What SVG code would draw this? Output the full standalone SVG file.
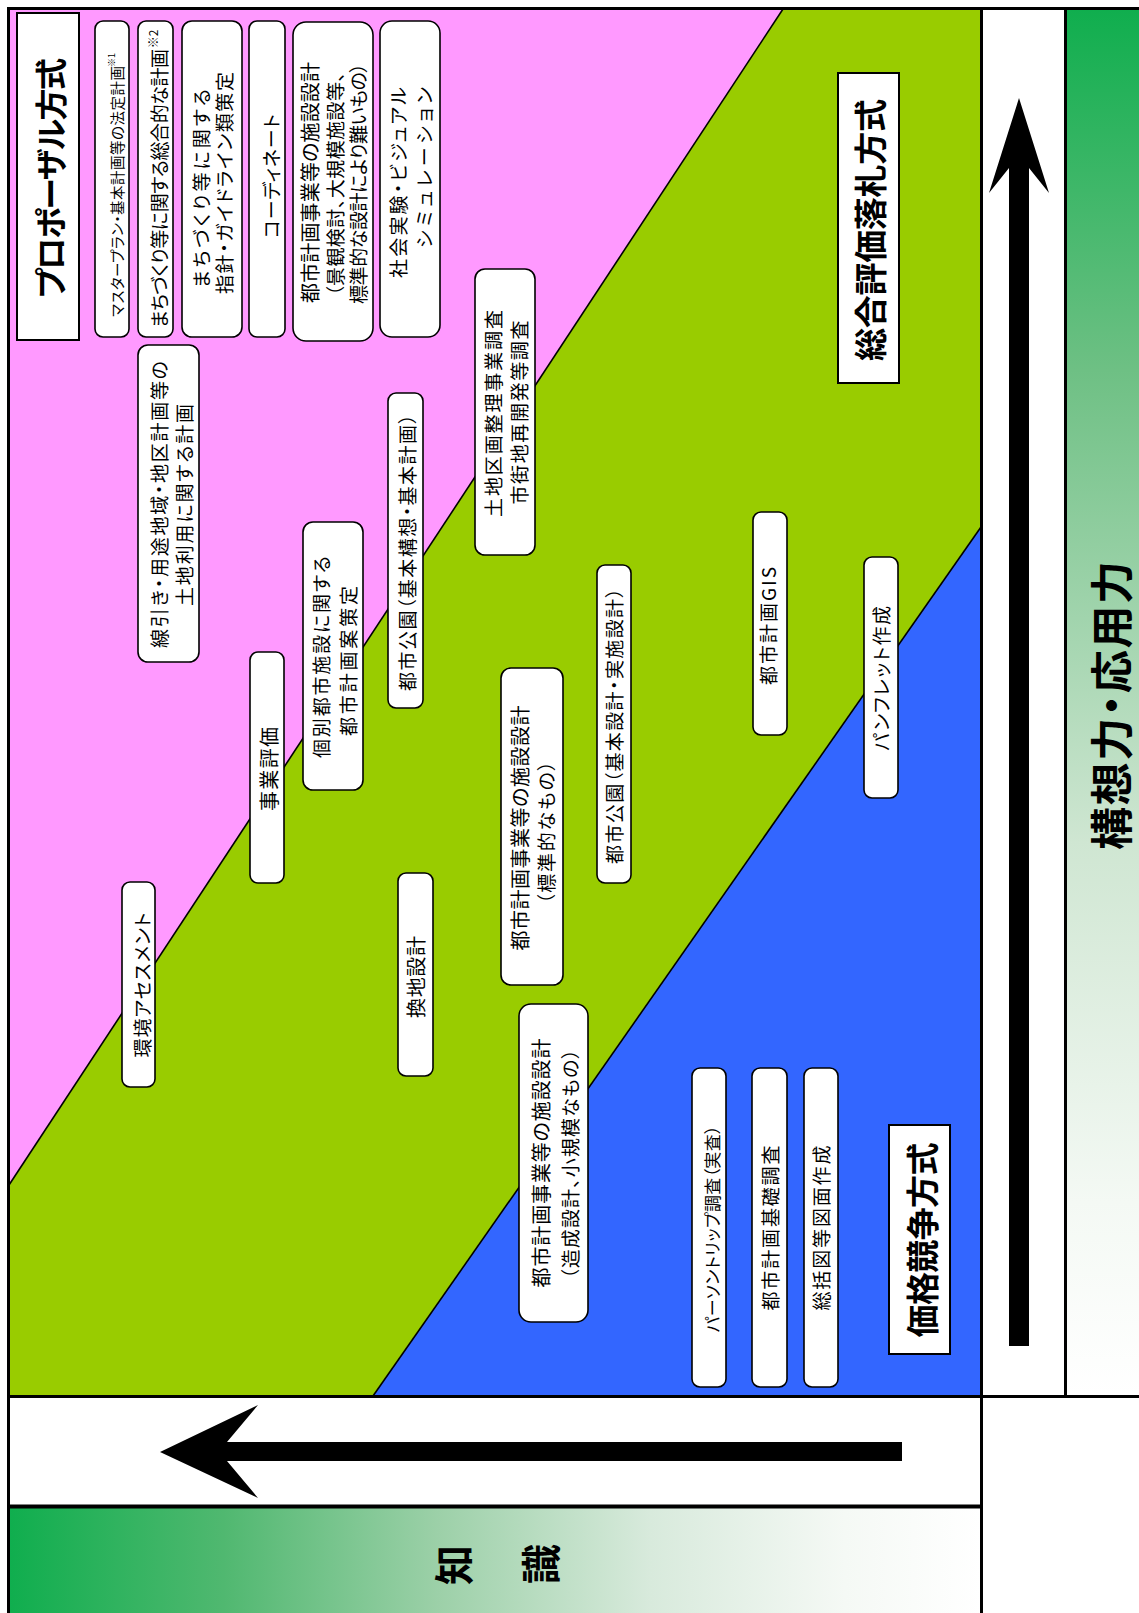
<svg xmlns="http://www.w3.org/2000/svg" width="1139" height="1613" viewBox="0 0 1139 1613">
<style>
.box{fill:#fff;stroke:#000;stroke-width:1.6}
.sq{fill:#fff;stroke:#000;stroke-width:2}
.t{font-family:"Noto Sans CJK JP","Noto Sans CJK SC",sans-serif;font-size:19px;fill:#000;text-anchor:middle;dominant-baseline:central;font-feature-settings:"palt" 1}
.s{text-anchor:start}
.b{font-weight:bold}
.fr{stroke:#000;stroke-width:3;fill:none}
.bd{stroke:#000;stroke-width:1.6;fill:none}
</style>
<defs>
<linearGradient id="gh" x1="0" y1="0" x2="1" y2="0">
<stop offset="0" stop-color="#10AE4E"/>
<stop offset="0.22" stop-color="#50B870"/>
<stop offset="0.44" stop-color="#9CD0A8"/>
<stop offset="0.66" stop-color="#D8EADC"/>
<stop offset="0.86" stop-color="#F5F9F5"/>
<stop offset="1" stop-color="#FFFFFF"/>
</linearGradient>
<linearGradient id="gv" x1="0" y1="0" x2="0" y2="1">
<stop offset="0" stop-color="#10AE4E"/>
<stop offset="0.26" stop-color="#6EC084"/>
<stop offset="0.6" stop-color="#CFE6D2"/>
<stop offset="0.86" stop-color="#F4F9F4"/>
<stop offset="1" stop-color="#FFFFFF"/>
</linearGradient>
</defs>
<rect x="0" y="0" width="1139" height="1613" fill="#fff"/>
<g id="regions">
<polygon points="9,9 783,9 9,1185" fill="#FF99FF"/>
<polygon points="783,9 981,9 981,527 373,1396 9,1396 9,1185" fill="#99CC00"/>
<polygon points="981,527 981,1396 373,1396" fill="#3366FF"/>
<line class="bd" x1="9" y1="1185" x2="783" y2="9"/>
<line class="bd" x1="373" y1="1396" x2="981" y2="527"/>
<rect x="10" y="1508" width="971" height="105" fill="url(#gh)"/>
<rect x="1066" y="10" width="73" height="1386" fill="url(#gv)"/>
</g>
<g id="frame">
<line class="fr" x1="7" y1="8.5" x2="1139" y2="8.5"/>
<line class="fr" x1="8.5" y1="7" x2="8.5" y2="1613"/>
<line class="fr" x1="981.5" y1="7" x2="981.5" y2="1613"/>
<line class="fr" x1="1065.5" y1="7" x2="1065.5" y2="1397"/>
<line class="fr" x1="7" y1="1396.5" x2="1139" y2="1396.5"/>
<line class="fr" x1="7" y1="1506.5" x2="981" y2="1506.5" style="stroke-width:4"/>
</g>
<g id="connectors">
<polygon id="arrow-up" points="1019,98 1049,193 1029,168 1029,1346 1009,1346 1009,168 989,193" fill="#000"/>
<polygon id="arrow-left" points="160,1452 258,1405 227,1442 902,1442 902,1461 227,1461 258,1498" fill="#000"/>
</g>
<g id="axis-labels">
<text class="t b" transform="translate(1109 705.5) rotate(-90)" style="font-size:43px" textLength="289" lengthAdjust="spacing">構想力・応用力</text>
<text class="t b" transform="translate(452 1565) rotate(-90)" style="font-size:40px">知</text>
<text class="t b" transform="translate(539 1564) rotate(-90)" style="font-size:40px">識</text>
</g>
<g id="n-proposal">
<rect class="sq" x="17" y="13" width="62" height="327"/>
<text class="t b" transform="translate(49 178) rotate(-90)" style="font-size:32px" textLength="240" lengthAdjust="spacing">プロポーザル方式</text>
</g>
<g id="n-masterplan">
<rect class="box" x="95" y="21" width="34" height="316" rx="8"/>
<text class="t s" transform="translate(116 317) rotate(-90)" style="font-size:14.5px" textLength="251" lengthAdjust="spacing">マスタープラン・基本計画等の法定計画</text>
<text class="t" transform="translate(111 60) rotate(-90)" style="font-size:9px">※1</text>
</g>
<g id="n-sogo">
<rect class="box" x="138" y="21" width="35" height="316" rx="8"/>
<text class="t s" transform="translate(158 328) rotate(-90)" textLength="279" lengthAdjust="spacing">まちづくり等に関する総合的な計画</text>
<text class="t" transform="translate(152 39) rotate(-90)" style="font-size:12px">※2</text>
</g>
<g id="n-guideline">
<rect class="box" x="182" y="21" width="60" height="316" rx="10"/>
<text class="t" transform="translate(200 188.5) rotate(-90)" textLength="199" lengthAdjust="spacing">まちづくり等に関する</text>
<text class="t" transform="translate(223 183) rotate(-90)" textLength="222" lengthAdjust="spacing">指針・ガイドライン類策定</text>
</g>
<g id="n-coordinate">
<rect class="box" x="249" y="21" width="36" height="316" rx="8"/>
<text class="t" transform="translate(270 176) rotate(-90)" textLength="124" lengthAdjust="spacing">コーディネート</text>
</g>
<g id="n-shisetsu-large">
<rect class="box" x="293" y="22" width="80" height="319" rx="13"/>
<text class="t" transform="translate(309 182.5) rotate(-90)" style="font-size:20px" textLength="241" lengthAdjust="spacing">都市計画事業等の施設設計</text>
<text class="t" transform="translate(334 184) rotate(-90)" textLength="224" lengthAdjust="spacing">（景観検討、大規模施設等、</text>
<text class="t" transform="translate(357 183.5) rotate(-90)" textLength="241" lengthAdjust="spacing">標準的な設計により難いもの）</text>
</g>
<g id="n-shakaijikken">
<rect class="box" x="380" y="21" width="60" height="316" rx="12"/>
<text class="t" transform="translate(397 182.5) rotate(-90)" textLength="191" lengthAdjust="spacing">社会実験・ビジュアル</text>
<text class="t" transform="translate(423 167.5) rotate(-90)" textLength="161" lengthAdjust="spacing">シミュレーション</text>
</g>
<g id="n-senbiki">
<rect class="box" x="138" y="345" width="61" height="317" rx="10"/>
<text class="t" transform="translate(158 504.5) rotate(-90)" textLength="287" lengthAdjust="spacing">線引き・用途地域・地区計画等の</text>
<text class="t" transform="translate(183 505) rotate(-90)" textLength="202" lengthAdjust="spacing">土地利用に関する計画</text>
</g>
<g id="n-kobetsu">
<rect class="box" x="303" y="522" width="60" height="268" rx="10"/>
<text class="t" transform="translate(320 657) rotate(-90)" textLength="202" lengthAdjust="spacing">個別都市施設に関する</text>
<text class="t" transform="translate(347 661) rotate(-90)" textLength="150" lengthAdjust="spacing">都市計画案策定</text>
</g>
<g id="n-koen-kihonkoso">
<rect class="box" x="388" y="393" width="35" height="315" rx="8"/>
<text class="t" transform="translate(406 552.5) rotate(-90)" textLength="277" lengthAdjust="spacing">都市公園（基本構想・基本計画）</text>
</g>
<g id="n-kukaku">
<rect class="box" x="475" y="269" width="60" height="286" rx="10"/>
<text class="t" transform="translate(492 413.5) rotate(-90)" textLength="207" lengthAdjust="spacing">土地区画整理事業調査</text>
<text class="t" transform="translate(518 412.5) rotate(-90)" textLength="184" lengthAdjust="spacing">市街地再開発等調査</text>
</g>
<g id="n-koen-jisshi">
<rect class="box" x="597" y="565" width="34" height="318" rx="8"/>
<text class="t" transform="translate(613 726) rotate(-90)" textLength="276" lengthAdjust="spacing">都市公園（基本設計・実施設計）</text>
</g>
<g id="n-shisetsu-std">
<rect class="box" x="501" y="668" width="62" height="317" rx="10"/>
<text class="t" transform="translate(519 828) rotate(-90)" style="font-size:20px" textLength="245" lengthAdjust="spacing">都市計画事業等の施設設計</text>
<text class="t" transform="translate(545 832.5) rotate(-90)" textLength="143" lengthAdjust="spacing">（標準的なもの）</text>
</g>
<g id="n-gis">
<rect class="box" x="753" y="512" width="34" height="223" rx="8"/>
<text class="t" transform="translate(767 626) rotate(-90)" textLength="118" lengthAdjust="spacing">都市計画GIS</text>
</g>
<g id="n-pamphlet">
<rect class="box" x="864" y="557" width="34" height="241" rx="8"/>
<text class="t" transform="translate(880 678.5) rotate(-90)" textLength="145" lengthAdjust="spacing">パンフレット作成</text>
</g>
<g id="n-sogohyoka">
<rect class="sq" x="838" y="73" width="61" height="310"/>
<text class="t b" transform="translate(869 230) rotate(-90)" style="font-size:33px" textLength="262" lengthAdjust="spacing">総合評価落札方式</text>
</g>
<g id="n-jigyohyoka">
<rect class="box" x="250" y="652" width="34" height="231" rx="8"/>
<text class="t" transform="translate(268 769) rotate(-90)" style="font-size:20px" textLength="84" lengthAdjust="spacing">事業評価</text>
</g>
<g id="n-assessment">
<rect class="box" x="122" y="882" width="33" height="205" rx="8"/>
<text class="t" transform="translate(141 985) rotate(-90)" textLength="145" lengthAdjust="spacing">環境アセスメント</text>
</g>
<g id="n-kanchi">
<rect class="box" x="398" y="873" width="35" height="203" rx="8"/>
<text class="t" transform="translate(415 977) rotate(-90)" style="font-size:20px" textLength="82" lengthAdjust="spacing">換地設計</text>
</g>
<g id="n-shisetsu-small">
<rect class="box" x="519" y="1004" width="69" height="318" rx="12"/>
<text class="t" transform="translate(540 1163) rotate(-90)" style="font-size:20px" textLength="249" lengthAdjust="spacing">都市計画事業等の施設設計</text>
<text class="t" transform="translate(569 1164) rotate(-90)" textLength="230" lengthAdjust="spacing">（造成設計、小規模なもの）</text>
</g>
<g id="n-persontrip">
<rect class="box" x="692" y="1068" width="34" height="319" rx="8"/>
<text class="t" transform="translate(711.5 1229) rotate(-90)" style="font-size:17px" textLength="207" lengthAdjust="spacing">パーソントリップ調査（実査）</text>
</g>
<g id="n-kiso">
<rect class="box" x="752" y="1068" width="35" height="319" rx="8"/>
<text class="t" transform="translate(769 1228) rotate(-90)" textLength="165" lengthAdjust="spacing">都市計画基礎調査</text>
</g>
<g id="n-sokatsu">
<rect class="box" x="804" y="1068" width="34" height="319" rx="8"/>
<text class="t" transform="translate(820 1228) rotate(-90)" textLength="165" lengthAdjust="spacing">総括図等図面作成</text>
</g>
<g id="n-kakaku">
<rect class="sq" x="889" y="1125" width="61" height="229"/>
<text class="t b" transform="translate(921 1240) rotate(-90)" style="font-size:33px" textLength="195" lengthAdjust="spacing">価格競争方式</text>
</g>
</svg>
